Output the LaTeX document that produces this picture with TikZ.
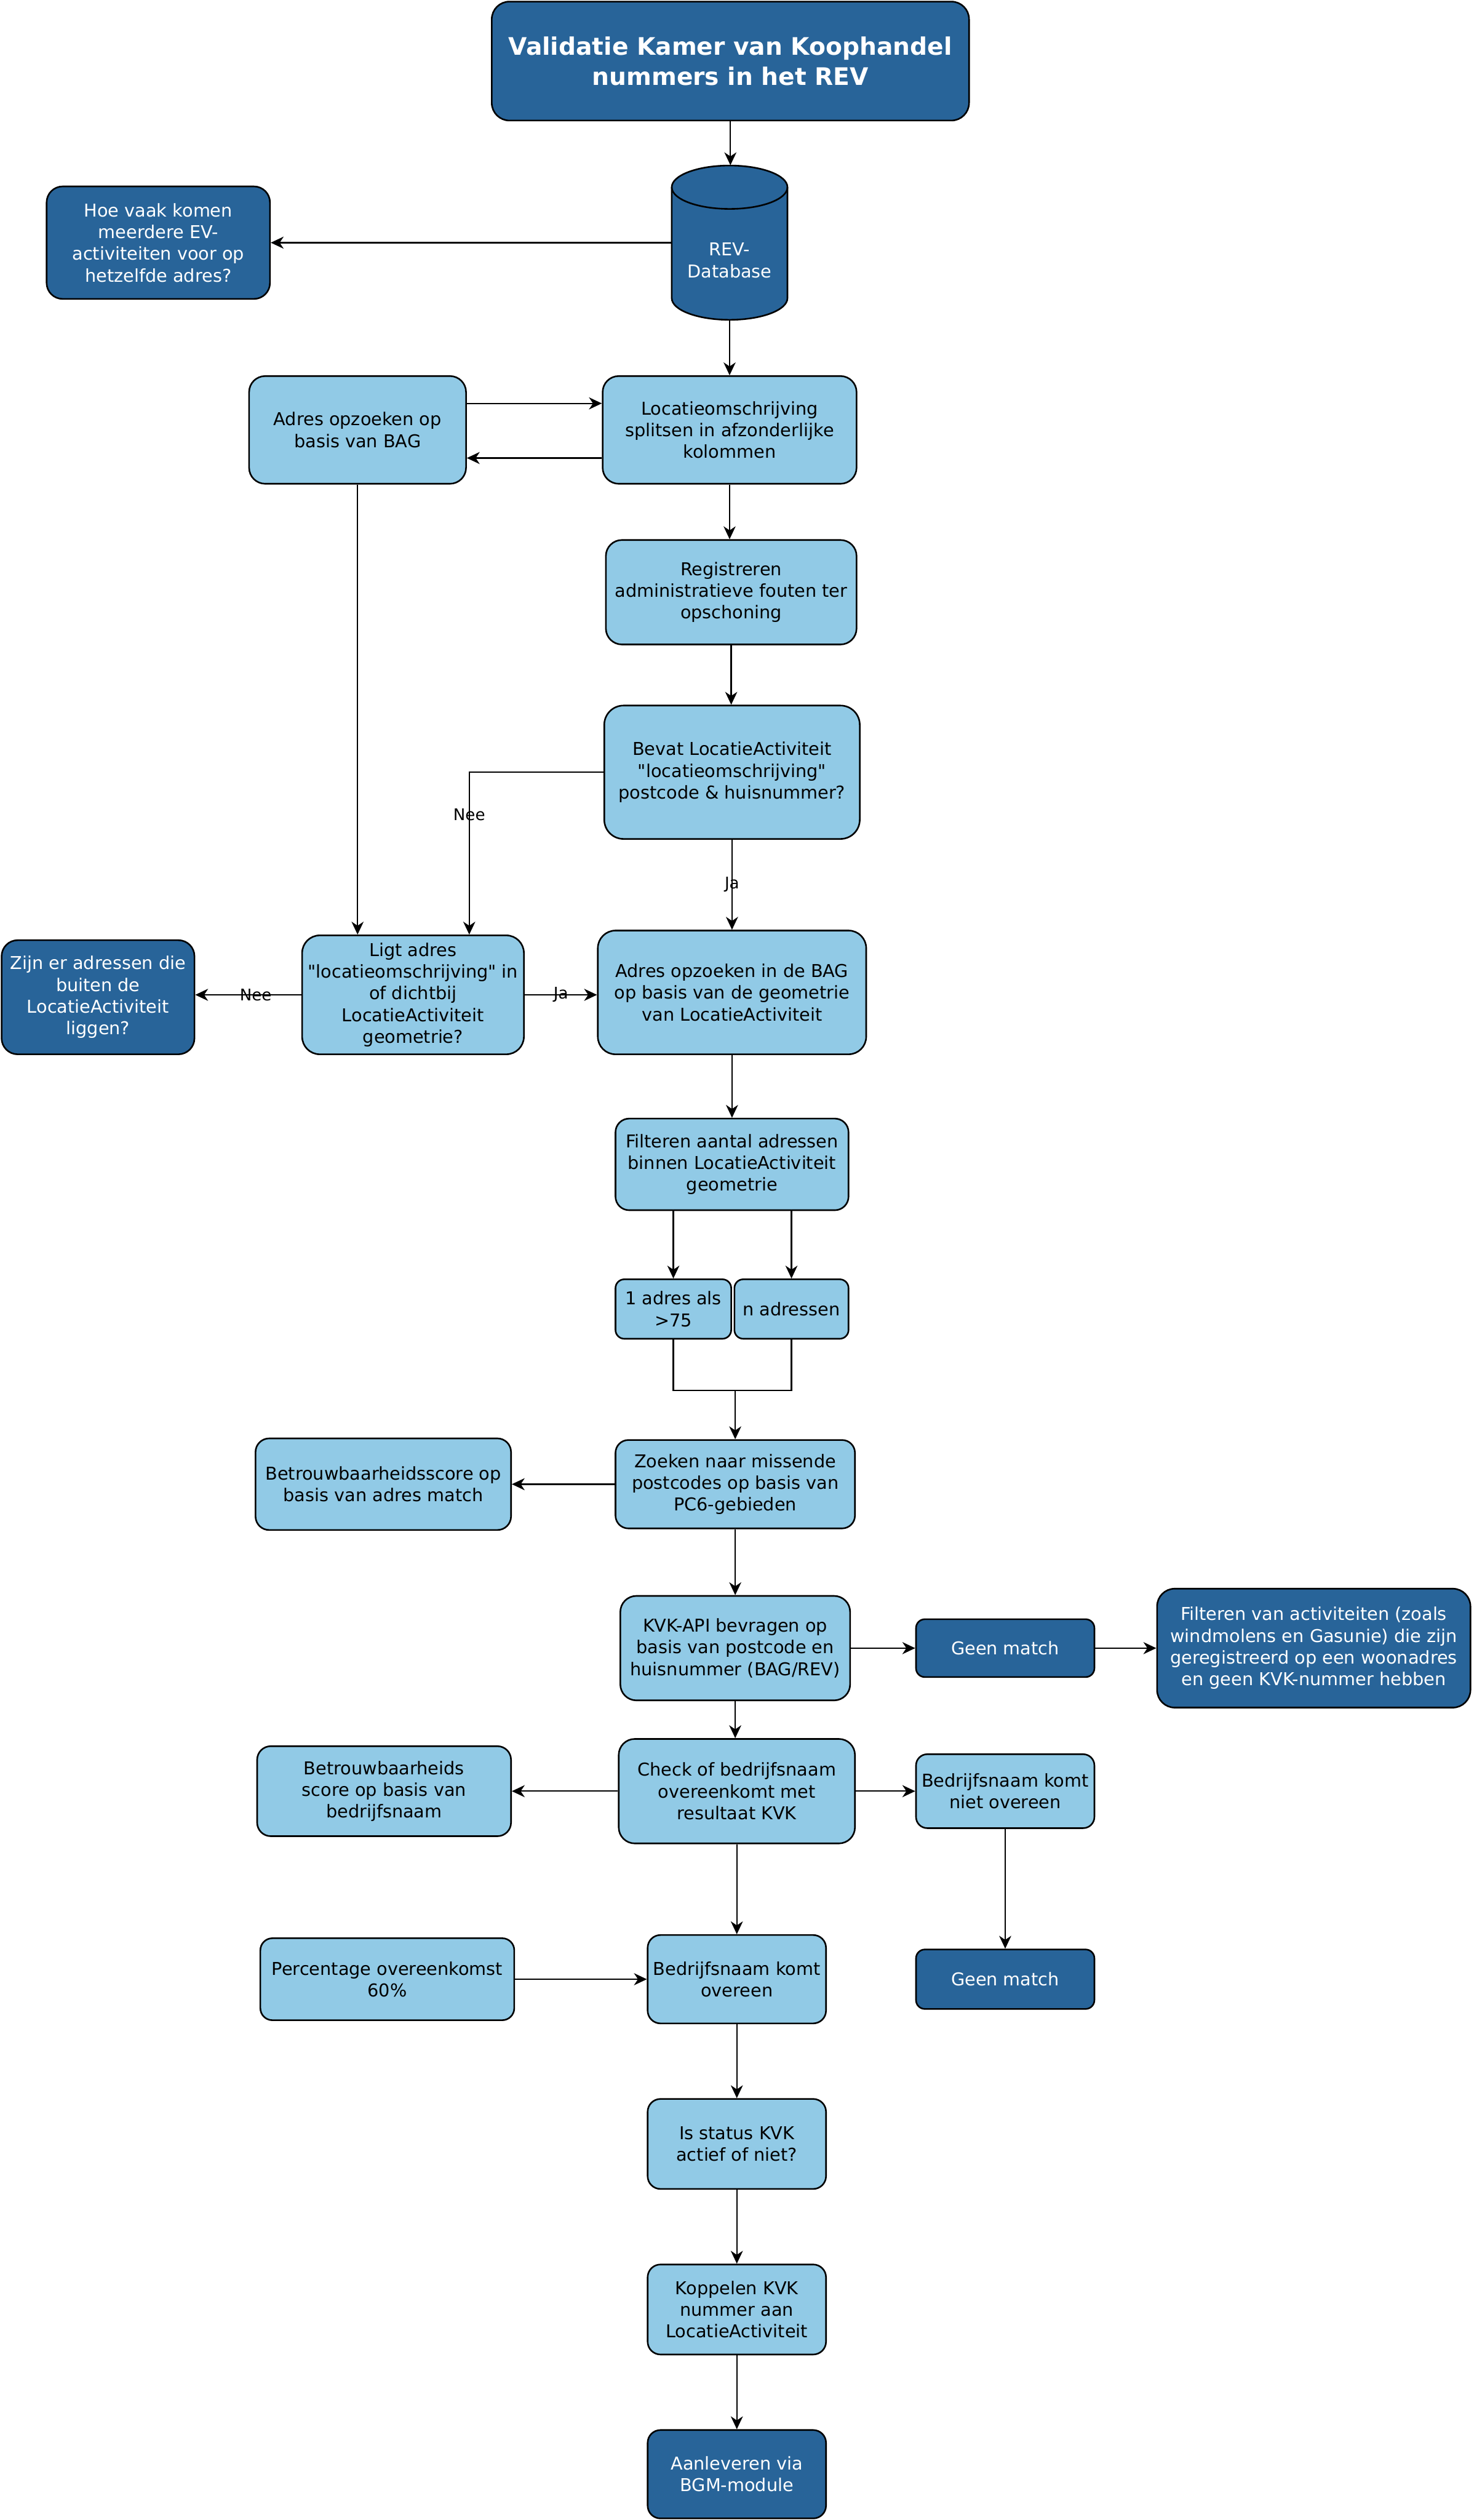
\documentclass[tikz,border=0pt]{standalone}
\usepackage{fontspec}
\setmainfont{DejaVu Sans}[Ligatures=TeXOff]
\usetikzlibrary{positioning,arrows.meta,calc}
\definecolor{revdark}{RGB}{40,100,153}
\definecolor{revlight}{RGB}{145,202,230}

\tikzset{
  stap/.style={draw=black, line width=1pt, fill=revlight, rounded corners=#1,
    align=center, inner sep=2pt, font=\fontsize{11}{13.5}\selectfont},
  stap/.default=10pt,
  eind/.style={stap=#1, fill=revdark, text=white},
  eind/.default=10pt,
  pijl/.style={->, line width=0.85pt},
  lbl/.style={font=\fontsize{10}{12}\selectfont, inner sep=1pt},
}

\begin{document}
\begin{tikzpicture}[x=1pt, y=-1pt, >={Stealth[length=8pt,width=7.5pt,inset=2.5pt]}]
\useasboundingbox (0,0) rectangle (917,1568);

% titel en database
\node[eind=11pt, minimum width=297pt, minimum height=74pt, font=\fontsize{15}{18.5}\selectfont\bfseries] (titel) at (454.5,38) {Validatie Kamer van Koophandel\\nummers in het REV};

\node[minimum width=72pt, minimum height=96pt, inner sep=0pt] (db) at (454,151) {};
\draw[fill=revdark, line width=1pt] (418,116.5) -- (418,185.5)
    arc[start angle=180, end angle=360, x radius=36pt, y radius=13.5pt] -- (490,116.5)
    arc[start angle=0, end angle=180, x radius=36pt, y radius=13.5pt] -- cycle;
\draw[line width=1pt] (418,116.5) arc[start angle=180, end angle=360, x radius=36pt, y radius=13.5pt];
\node[text=white, align=center, font=\fontsize{11}{13.5}\selectfont] (dbtekst) at (454,162) {REV-\\Database};

\node[eind, minimum width=139pt, minimum height=70pt] (hoe) at (98.5,151) {Hoe vaak komen\\meerdere EV-\\activiteiten voor op\\hetzelfde adres?};

% adressen
\node[stap, minimum width=135pt, minimum height=67pt] (bag) at (222.5,267.5) {Adres opzoeken op\\basis van BAG};
\node[stap, minimum width=158pt, minimum height=67pt] (split) at (454,267.5) {Locatieomschrijving\\splitsen in afzonderlijke\\kolommen};
\node[stap, minimum width=156pt, minimum height=65pt] (reg) at (455,368.5) {Registreren\\administratieve fouten ter\\opschoning};
\node[stap=12pt, minimum width=159pt, minimum height=83pt] (bevat) at (455.5,480.5) {Bevat LocatieActiviteit\\"locatieomschrijving"\\postcode \& huisnummer?};
\node[stap=11pt, minimum width=138pt, minimum height=74pt] (ligt) at (257,619) {Ligt adres\\"locatieomschrijving" in\\of dichtbij\\LocatieActiviteit\\geometrie?};
\node[eind, minimum width=120pt, minimum height=71pt] (zijn) at (61,620.5) {Zijn er adressen die\\buiten de\\LocatieActiviteit\\liggen?};
\node[stap=11pt, minimum width=167pt, minimum height=77pt] (geo) at (455.5,617.5) {Adres opzoeken in de BAG\\op basis van de geometrie\\van LocatieActiviteit};
\node[stap=8.5pt, minimum width=145pt, minimum height=57pt] (filt) at (455.5,724.5) {Filteren aantal adressen\\binnen LocatieActiviteit\\geometrie};
\node[stap=5.5pt, minimum width=72pt, minimum height=37pt] (een) at (419,814.5) {1 adres als\\>75};
\node[stap=5.5pt, minimum width=71pt, minimum height=37pt] (nadr) at (492.5,814.5) {n adressen};
\node[stap=8pt, minimum width=149pt, minimum height=55pt] (zoek) at (457.5,923.5) {Zoeken naar missende\\postcodes op basis van\\PC6-gebieden};
\node[stap=8.5pt, minimum width=159pt, minimum height=57pt] (score1) at (238.5,923.5) {Betrouwbaarheidsscore op\\basis van adres match};

% KVK
\node[stap, minimum width=143pt, minimum height=65pt] (kvk) at (457.5,1025.5) {KVK-API bevragen op\\basis van postcode en\\huisnummer (BAG/REV)};
\node[eind=5.5pt, minimum width=111pt, minimum height=36pt] (geen1) at (625.5,1025.5) {Geen match};
\node[eind=11pt, minimum width=195pt, minimum height=74pt] (filtact) at (817.5,1025.5) {Filteren van activiteiten (zoals\\windmolens en Gasunie) die zijn\\geregistreerd op een woonadres\\en geen KVK-nummer hebben};
\node[stap, minimum width=147pt, minimum height=65pt] (check) at (458.5,1114.5) {Check of bedrijfsnaam\\overeenkomt met\\resultaat KVK};
\node[stap=8.5pt, minimum width=158pt, minimum height=56pt] (score2) at (239,1114.5) {Betrouwbaarheids\\score op basis van\\bedrijfsnaam};
\node[stap=7pt, minimum width=111pt, minimum height=46pt] (niet) at (625.5,1114.5) {Bedrijfsnaam komt\\niet overeen};
\node[eind=5.5pt, minimum width=111pt, minimum height=37pt] (geen2) at (625.5,1231.5) {Geen match};
\node[stap=7.5pt, minimum width=158pt, minimum height=51pt] (perc) at (241,1231.5) {Percentage overeenkomst\\60\%};
\node[stap=8pt, minimum width=111pt, minimum height=55pt] (komt) at (458.5,1231.5) {Bedrijfsnaam komt\\overeen};
\node[stap=8pt, minimum width=111pt, minimum height=56pt] (status) at (458.5,1334) {Is status KVK\\actief of niet?};
\node[stap=8pt, minimum width=111pt, minimum height=56pt] (koppel) at (458.5,1437) {Koppelen KVK\\nummer aan\\LocatieActiviteit};
\node[eind=8pt, minimum width=111pt, minimum height=55pt] (aanl) at (458.5,1539.5) {Aanleveren via\\BGM-module};

% pijlen
\draw[pijl] (titel.south) -- (titel.south |- db.north);
\draw[pijl] (db.west) -- (hoe.east);
\draw[pijl] (db.south) -- (split.north);
\draw[pijl] ([yshift=16.5pt]bag.east) -- ([yshift=16.5pt]split.west);
\draw[pijl] ([yshift=-17.5pt]split.west) -- ([yshift=-17.5pt]bag.east);
\draw[pijl] (split.south) -- (split.south |- reg.north);
\draw[pijl] (reg.south) -- (reg.south |- bevat.north);
\draw[pijl] (bevat.west) -| node[lbl, pos=0.63] (nee1) {Nee} ([xshift=35pt]ligt.north);
\draw[pijl] (bevat.south) -- node[lbl] (ja1) {Ja} (geo.north);
\draw[pijl] (bag.south) -- (bag.south |- ligt.north);
\draw[pijl] (ligt.west) -- node[lbl, pos=0.43] (nee2) {Nee} (ligt.west -| zijn.east);
\draw[pijl] (ligt.east) -- node[lbl] (ja2) {Ja} (ligt.east -| geo.west);
\draw[pijl] (geo.south) -- (filt.north);
\draw[pijl] (een.north |- filt.south) -- (een.north);
\draw[pijl] (nadr.north |- filt.south) -- (nadr.north);
\coordinate (samen) at (457.5,865);
\draw[line width=0.85pt] (een.south) |- (samen) -| (nadr.south);
\draw[pijl] (samen) -- (zoek.north);
\draw[pijl] (zoek.west) -- (score1.east);
\draw[pijl] (zoek.south) -- (kvk.north);
\draw[pijl] (kvk.east) -- (geen1.west);
\draw[pijl] (geen1.east) -- (filtact.west);
\draw[pijl] (kvk.south) -- (kvk.south |- check.north);
\draw[pijl] (check.west) -- (score2.east);
\draw[pijl] (check.east) -- (niet.west);
\draw[pijl] (niet.south) -- (geen2.north);
\draw[pijl] (check.south) -- (komt.north);
\draw[pijl] (perc.east) -- (komt.west);
\draw[pijl] (komt.south) -- (status.north);
\draw[pijl] (status.south) -- (koppel.north);
\draw[pijl] (koppel.south) -- (aanl.north);

\end{tikzpicture}
\end{document}
